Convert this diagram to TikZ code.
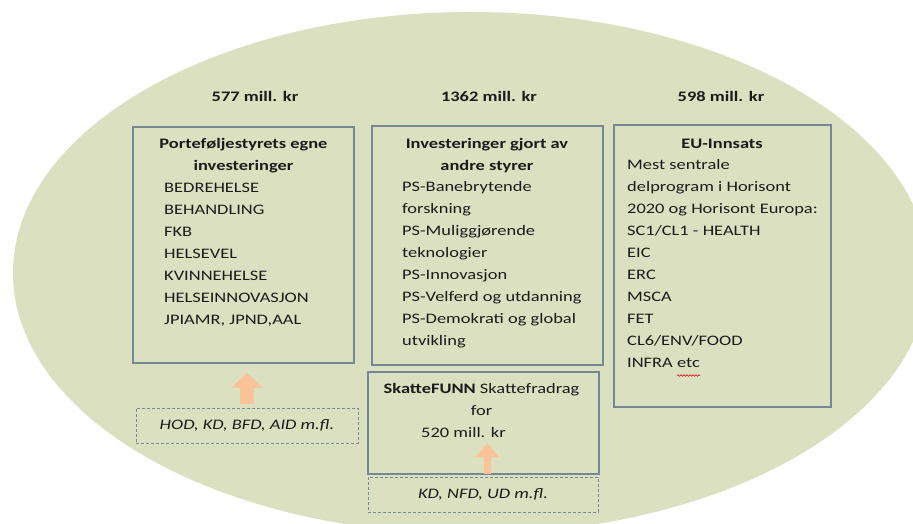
\documentclass[tikz,border=0pt]{standalone}
\usepackage{fontspec}
\setmainfont{Carlito}[FakeStretch=1.27]
\usetikzlibrary{arrows.meta,decorations.pathmorphing}
\definecolor{ellfill}{RGB}{218,224,192}
\definecolor{boxline}{RGB}{118,136,150}
\definecolor{dashline}{RGB}{120,136,152}
\definecolor{peach}{RGB}{250,196,152}
\definecolor{txt}{RGB}{28,28,28}
\begin{document}
\begin{tikzpicture}[x=1pt,y=-1pt,
  every node/.style={inner sep=0pt, text=txt},
  fnt/.style={font=\fontsize{14.5}{22}\selectfont},
  lbl/.style={fnt, font=\fontsize{14.5}{22}\selectfont\bfseries},
  frame/.style={draw=boxline, line width=1.3pt, inner sep=0pt},
  dashframe/.style={draw=dashline, line width=0.9pt, dash pattern=on 3pt off 2pt, inner sep=0pt,
    font=\fontsize{14.5}{22}\selectfont\itshape},
  heading/.style={font=\fontsize{14.5}{22.5}\selectfont\bfseries, align=center, anchor=north},
  items/.style={fnt, align=left, anchor=north west},
  blockarrow/.style={draw=peach}
]
\useasboundingbox (0,0) rectangle (913,524);
\begin{scope}
\clip (0,0) rectangle (913,524);
\fill[ellfill] (471,273) ellipse [x radius=458, y radius=261];
\end{scope}

% top amounts
\node[lbl, anchor=base] (t1) at (255,101.5) {577 mill. kr};
\node[lbl, anchor=base] (t2) at (489,101.5) {1362 mill. kr};
\node[lbl, anchor=base] (t3) at (721,101.5) {598 mill. kr};

% main boxes
\node[frame, minimum width=221pt, minimum height=236pt] (box1) at (243.5,245) {};
\node[frame, minimum width=231pt, minimum height=239pt] (box2) at (487.5,245.5) {};
\node[frame, minimum width=217pt, minimum height=282pt] (box3) at (722.5,266) {};
\node[frame, minimum width=231pt, minimum height=102pt] (box4) at (483.5,423) {};

% dashed boxes
\node[dashframe, minimum width=222pt, minimum height=35pt] (dash1) at (247,425.5) {HOD, KD, BFD, AID m.fl.};
\node[dashframe, minimum width=230pt, minimum height=35pt] (dash2) at (483,494.5) {KD, NFD, UD m.fl.};

% box 1 text
\node[heading] (h1) at (243.5,132.2) {\strut Porteføljestyrets egne\\investeringer};
\node[items] (l1) at (164,177.2) {\strut BEDREHELSE\\BEHANDLING\\FKB\\HELSEVEL\\KVINNEHELSE\\HELSEINNOVASJON\\JPIAMR, JPND,AAL};

% box 2 text
\node[heading] (h2) at (487,132.2) {\strut Investeringer gjort av\\andre styrer};
\node[items] (l2) at (402,176.2) {\strut PS-Banebrytende\\forskning\\PS-Muliggjørende\\teknologier\\PS-Innovasjon\\PS-Velferd og utdanning\\PS-Demokrati og global\\utvikling};

% box 3 text
\node[heading] (h3) at (722,132.2) {\strut EU-Innsats};
\node[items] (l3) at (627,154.2) {\strut Mest sentrale\\delprogram i Horisont\\2020 og Horisont Europa:\\SC1/CL1 - HEALTH\\EIC\\ERC\\MSCA\\FET\\CL6/ENV/FOOD\\INFRA etc};
\draw[red!85!black, line width=0.6pt, decorate, decoration={snake, amplitude=0.8pt, segment length=3pt}] (677,375.5) -- (700,375.5);

% box 4 text
\node[fnt, align=center, anchor=north] (sf) at (481.5,378.2) {\strut\textbf{SkatteFUNN} Skattefradrag\\for};
\node[fnt, anchor=base west] (sf520) at (421,437.6) {520 mill. kr};

% block arrows
\draw[peach, line width=14pt, -{Triangle[width=30pt,length=15pt]}, shorten <=4pt, shorten >=9pt]
  (dash1.north) -- (dash1.north |- box1.south);
\coordinate (a2tip) at (487.5,443);
\draw[peach, line width=7pt, -{Triangle[width=22pt,length=14pt]}, shorten <=1pt]
  (box4.south -| a2tip) -- (a2tip);
\end{tikzpicture}
\end{document}
